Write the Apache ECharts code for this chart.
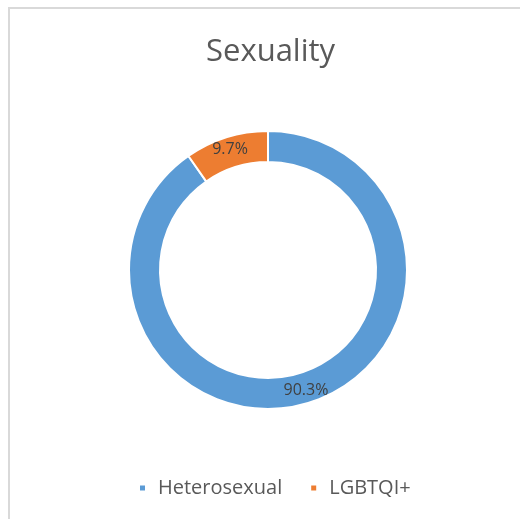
<!DOCTYPE html>
<html>
<head>
<meta charset="utf-8">
<script src="https://cdn.jsdelivr.net/npm/echarts@6/dist/echarts.min.js"></script>
<style>
  html, body { margin: 0; padding: 0; background: #fff; }
  #chart { width: 520px; height: 519px; }
</style>
</head>
<body>
<div id="chart"></div>
<script>
const categories = ['Heterosexual', 'LGBTQI+'];
const values = [90.3, 9.7];
const colors = ['#5B9BD5', '#ED7D31'];

const myChart = echarts.init(document.getElementById('chart'));
const option = {
  backgroundColor: '#ffffff',
  textStyle: { fontFamily: 'Open Sans' },
  graphic: [
    {
      type: 'rect',
      shape: { x: 9, y: 8, width: 600, height: 600 },
      style: { fill: 'none', stroke: '#d9d9d9', lineWidth: 2 },
      silent: true
    }
  ],
  title: {
    text: 'Sexuality',
    left: 201,
    top: 32,
    textStyle: {
      fontFamily: 'Open Sans',
      fontSize: 31,
      fontWeight: 'normal',
      color: '#595959'
    }
  },
  legend: {
    data: categories,
    left: 133,
    top: 473,
    icon: 'rect',
    itemWidth: 7,
    itemHeight: 7,
    itemGap: 27,
    selectedMode: false,
    textStyle: {
      fontFamily: 'Open Sans',
      fontSize: 20,
      color: '#595959',
      padding: [0, 0, 0, 7]
    }
  },
  series: [
    {
      name: 'Sexuality',
      type: 'pie',
      center: [268, 270],
      radius: [108, 139],
      startAngle: 90,
      clockwise: true,
      avoidLabelOverlap: false,
      emphasis: { disabled: true },
      itemStyle: { borderColor: '#ffffff', borderWidth: 2 },
      label: {
        show: true,
        position: 'inside',
        formatter: '{c}%',
        fontFamily: 'Open Sans',
        fontSize: 16,
        color: '#404040'
      },
      labelLine: { show: false },
      data: categories.map((name, i) => ({
        name: name,
        value: values[i],
        itemStyle: { color: colors[i] }
      }))
    }
  ]
};
option && myChart.setOption(option);
</script>
</body>
</html>
